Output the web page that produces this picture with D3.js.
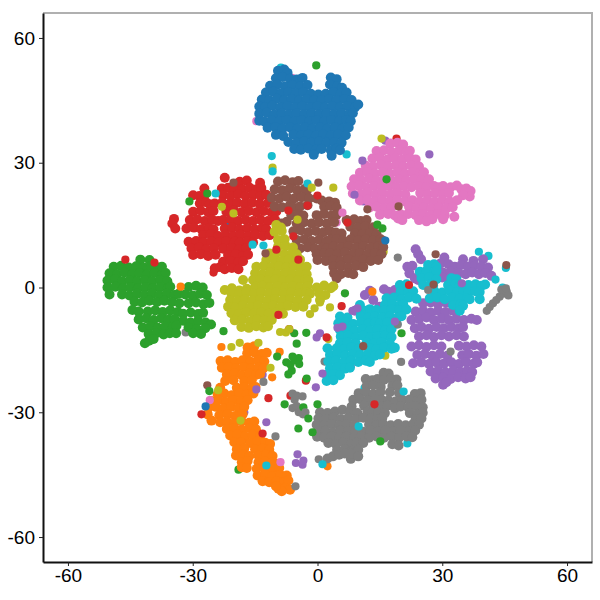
<!DOCTYPE html>
<html><head><meta charset="utf-8"><script src="https://cdn.jsdelivr.net/npm/d3@7"></script>
<style>html,body{margin:0;padding:0;background:#fff}svg{display:block}</style></head><body><svg id="c" width="600" height="600"></svg>
<script>
const classNames=["blue","orange","green","red","purple","brown","pink","gray","olive","cyan"];
const tickValues=[-60,-30,0,30,60];
const blue=[[-9.5,52.1],[-8,52.4],[-7.2,51.6],[-10,50.3],[-8.4,50.6],[-6.6,50.2],[-5,50],[-3.6,50.4],[3.2,50.5],[4.6,50.1],[-11.4,48.5],[-9.6,48.8],[-7.8,48.4],[-6,48.7],[-4.2,48.4],[-2.4,48.7],[3,48.8],[4.8,48.4],[5.9,48],[-12.4,46.9],[-10.6,47.1],[-8.8,46.7],[-7,47],[-5.2,46.7],[-3.4,47],[-1.6,46.6],[0.2,46.4],[2,46.6],[3.8,47],[5.6,46.6],[7,46.9],[-13.4,45.2],[-11.6,45],[-9.8,45.4],[-8,45],[-6.2,45.3],[-4.4,45],[-2.6,45.3],[-0.8,45],[1,45],[2.8,45.3],[4.6,45],[6.4,45.3],[8.2,45.1],[-14,43.5],[-12.6,43.3],[-10.8,43.7],[-9,43.3],[-7.2,43.6],[-5.4,43.3],[-3.6,43.6],[-1.8,43.3],[0,43.6],[1.8,43.3],[3.6,43.6],[5.4,43.3],[7.2,43.6],[9,43.3],[9.8,44],[-14,41.8],[-12.2,42],[-10.4,41.6],[-8.6,41.9],[-6.8,41.6],[-5,41.9],[-3.2,41.6],[-1.4,41.9],[0.4,41.6],[2.2,41.9],[4,41.6],[5.8,41.9],[7.6,41.6],[8.5,41.9],[-14,40.1],[-12.8,39.9],[-11,40.3],[-9.2,39.9],[-7.4,40.2],[-5.6,39.9],[-3.8,40.2],[-2,39.9],[-0.2,40.2],[1.6,39.9],[3.4,40.2],[5.2,39.9],[7,40.2],[8,40],[-12,38.4],[-10.2,38.6],[-8.4,38.2],[-6.6,38.5],[-4.8,38.2],[-3,38.5],[-1.2,38.2],[0.6,38.5],[2.4,38.2],[4.2,38.5],[6,38.2],[7.5,38.5],[-10,36.7],[-8.2,36.4],[-5.8,36.8],[-4,36.5],[-2.2,36.8],[-0.4,36.5],[1.4,36.8],[3.2,36.5],[5,36.8],[6.8,36.6],[-7,35],[-5,34.8],[-3.2,35.1],[-1.4,34.8],[0.4,35.1],[2.2,34.8],[4,35],[5.8,34.8],[-5.6,33.3],[-4,33.1],[-2.2,33.4],[-0.4,33.1],[1,33.3],[3.2,33],[4.6,33.4],[5.4,33],[-0.9,31.9],[3.4,31.7]];
const pink=[[17.5,34.6],[19.2,34.8],[20.6,34.4],[14.2,32.8],[16,33],[17.8,32.6],[19.6,32.9],[21.4,32.6],[22.2,32.9],[13.2,31],[15,31.2],[16.8,30.8],[18.6,31.1],[20.4,30.8],[22.2,31.1],[23.6,30.8],[11.6,29.3],[13.4,29.1],[15.2,29.5],[17,29.1],[18.8,29.4],[20.6,29.1],[22.4,29.4],[24.4,29.1],[10.2,27.6],[12,27.8],[13.8,27.4],[15.6,27.7],[17.4,27.4],[19.2,27.7],[21,27.4],[22.8,27.7],[24.6,27.4],[25.6,27.7],[8.8,26],[10.6,25.8],[12.4,26.2],[14.2,25.8],[16,26.1],[17.8,25.8],[19.6,26.1],[21.4,25.8],[23.2,26.1],[25,25.8],[26.8,26],[8.2,24.3],[10,24.5],[11.8,24.1],[13.6,24.4],[15.4,24.1],[17.2,24.4],[19,24.1],[20.8,24.4],[22.6,24.1],[24.4,24.4],[26.2,24.1],[28,24.4],[29,24.1],[30.2,24.4],[32,24.1],[33.5,24.5],[8.5,22.6],[10.3,22.4],[12.1,22.8],[13.9,22.4],[15.7,22.7],[17.5,22.4],[19.3,22.7],[21.1,22.4],[24.7,22.7],[26.5,22.4],[28.3,22.7],[30.1,22.4],[31.6,22.7],[34.6,23.6],[35.8,23.8],[36.8,23.2],[36.6,21.9],[35,22.2],[10.2,20.9],[12,21.1],[13.8,20.7],[15.6,21],[17.4,20.7],[19.2,21],[21,20.7],[22.8,21],[24.6,20.7],[26.4,21],[28.2,20.7],[30,21],[31.8,20.7],[33.6,21],[12.4,19.2],[14.2,19.4],[16,19],[17.8,19.3],[22,19.4],[23.8,19],[25.6,19.3],[27.4,19],[29.2,19.3],[31,19],[32.5,19.3],[15,17.5],[17,17.7],[18.6,17.3],[20,17.6],[21.8,17.7],[23.6,17.4],[25.4,17.7],[27.2,17.4],[29,17.7],[30.6,17.4],[19.4,16.6],[20.4,16.2],[24.4,16.2],[26.2,15.9],[27.6,16.4],[30.2,16.4],[32.9,17]];
const brown=[[-9.5,25.5],[-7.8,25.8],[-6,25.3],[-4.6,25.6],[-10.3,23.6],[-8.5,23.4],[-6.7,23.8],[-4.9,23.4],[-3.1,23.7],[-2.6,23.2],[-11,21.6],[-9.2,21.4],[-7.4,21.8],[-5.6,21.4],[-3.8,21.7],[-2,21.4],[-0.2,21.4],[1,20.9],[2.8,20.7],[4.2,20.4],[-10.3,19.5],[-8.5,19.3],[-6.7,19.7],[-5.9,19.3],[-4.2,19.5],[-2.4,19.8],[1.6,19.4],[3.2,19.6],[4.6,19.2],[-6.3,17.4],[-4.5,17.7],[-3.4,17.3],[-0.2,17.4],[1.6,17.7],[3.4,17.3],[4.6,17.5],[-8.7,15.4],[-7.4,15.8],[-5,15.4],[-3.2,15.7],[-1.4,15.4],[0.4,15.7],[2.2,15.4],[4,15.7],[7,16.2],[8.8,16.4],[10.4,16],[11.8,16.2],[-5.8,13.5],[-4,13.7],[-2.2,13.3],[-0.4,13.6],[1.4,13.3],[3,13.6],[4.4,13.2],[5.8,13],[7.9,14.6],[9.7,14.4],[11.5,14.7],[13.4,14.5],[9,13],[10.8,12.8],[12.6,13.1],[14.2,12.8],[-5,11.4],[-3.2,11.6],[-1.4,11.2],[0.4,11.5],[2.2,11.2],[3,11.5],[4.6,11.6],[6.2,11.3],[8,11.6],[9.8,11.3],[11.6,11.6],[13.4,11.3],[15.2,11.6],[15.8,11.2],[-4.2,9.4],[-2.4,9.7],[-0.6,9.3],[1.2,9.6],[2.2,9.3],[3.8,9.8],[5.6,9.6],[7.4,10],[9.2,9.6],[11,10],[12.8,9.6],[14.6,9.9],[15.8,9.7],[-0.2,8],[1.6,8.2],[3,8.2],[4.8,8],[6.6,8.4],[8.4,8],[10.2,8.3],[12,8],[13.8,8.3],[15.4,8],[0,6.6],[2,6.4],[3.8,6.6],[5.6,6.4],[7.4,6.8],[9.2,6.4],[11,6.7],[12.8,6.4],[14.6,6.6],[3.8,5],[5.6,5.2],[7.4,4.9],[9.2,5.2],[11,4.9],[4,3.4],[5.6,3.2],[7.4,3.5],[8.6,3.2],[4.6,2.2]];
const red=[[-22.3,26.4],[-18.7,25.4],[-17,25.7],[-13.8,25.2],[-27.2,23.8],[-23,23.8],[-21.5,24],[-19.9,23.8],[-18.1,23.6],[-16.3,24],[-14.7,23.6],[-13.5,23.9],[-29.9,22.2],[-28.4,22],[-27,22.4],[-22.7,22.2],[-20.9,22],[-19.1,22.4],[-17.3,22],[-15.5,22.3],[-13.7,22],[-12.3,22.3],[-28.3,20.2],[-26.8,20.5],[-25.9,20],[-24.7,20.2],[-22.9,20.5],[-21.1,20.1],[-19.3,20.4],[-17.5,20.1],[-15.7,20.4],[-13.9,20.1],[-11.9,20.3],[-29.9,18.2],[-28.1,18.5],[-26.3,18.1],[-25,18.4],[-21.9,18.2],[-20.1,18.5],[-18.3,18.1],[-16.5,18.4],[-14.7,18.1],[-12.9,18.4],[-11.1,18.1],[-9.9,18.3],[-30.7,16.2],[-28.9,16.4],[-27.1,16],[-25.3,16.3],[-23.9,16],[-22.7,16.2],[-20.9,16.4],[-19.1,16],[-17.3,16.3],[-15.5,16],[-13.7,16.3],[-11.9,16],[-10.2,16.3],[-34.5,16.5],[-34.9,15.4],[-34.2,14.2],[-31.5,14.2],[-29.7,14.4],[-27.9,14],[-26.1,14.3],[-25,14],[-22.3,14.2],[-20.5,14.4],[-18.7,14],[-16.9,14.3],[-15.1,14],[-13.3,14.3],[-12.3,14],[-27.5,12.6],[-25.7,12.8],[-23.9,12.4],[-22.1,12.7],[-20.3,12.4],[-18.5,12.7],[-16.7,12.4],[-14.9,12.7],[-13.1,12.4],[-11.5,12.6],[-31,11],[-29.2,11.2],[-27.4,10.8],[-25.6,11.1],[-23.8,10.8],[-22,11.1],[-19.9,11],[-18.7,10.8],[-16.9,11.1],[-15.5,10.8],[-30.3,9.4],[-28.5,9.6],[-26.7,9.2],[-24.9,9.5],[-22.7,9.3],[-20.7,9.5],[-18.9,9.2],[-17.1,9.5],[-29.9,7.8],[-28.1,8],[-26.3,7.6],[-24.5,7.9],[-21.5,7.8],[-19.7,8],[-17.9,7.6],[-16.7,7.9],[-22.7,6.2],[-20.9,6.4],[-19.1,6],[-17.9,6.3],[-24.7,4.6],[-23.4,4.9],[-22.3,4.4],[-20.6,4.7],[-19,4.4]];
const olive=[[-9.9,15],[-8.8,14.4],[-10.3,13.4],[-8.6,13.6],[-9.5,11.4],[-7.9,11.6],[-9.5,9.8],[-7.7,10],[-5.9,9.6],[-11.5,8.2],[-9.7,8.4],[-7.9,8],[-6.1,8.3],[-5,8],[-12.3,6.6],[-10.5,6.8],[-8.7,6.4],[-6.9,6.7],[-5.1,6.4],[-4.2,6.7],[-14.7,5],[-12.9,5.2],[-11.1,4.8],[-9.3,5.1],[-7.5,4.8],[-5.7,5.1],[-3.9,4.8],[-2.6,5],[-15,3.4],[-13.2,3.2],[-11.4,3.6],[-9.6,3.2],[-7.8,3.5],[-6,3.2],[-4.2,3.5],[-2.6,3.2],[-17.9,1.8],[-15.5,1.8],[-13.7,2],[-11.9,1.6],[-10.1,1.9],[-8.3,1.6],[-6.5,1.9],[-4.7,1.6],[-2.9,1.9],[-2.2,1.6],[-22.3,-0.6],[-20.6,-0.2],[-18.8,-0.7],[-17,-0.3],[-15,0.2],[-13.2,0.4],[-11.4,0],[-9.6,0.3],[-7.8,0],[-6,0.3],[-4.2,0],[-2.4,0.3],[-0.2,0],[1.6,0.5],[3.2,-0.2],[3.8,0.3],[-20.7,-1.4],[-18.9,-1.6],[-17.1,-1.2],[-15.3,-1.5],[-13.5,-1.2],[-11.7,-1.5],[-9.9,-1.2],[-8.1,-1.5],[-6.3,-1.2],[-4.5,-1.5],[-2.7,-1.2],[-1.8,-1.5],[0.4,-1.4],[1.9,-1.8],[-21,-3],[-19.2,-3.2],[-17.4,-2.8],[-15.6,-3.1],[-13.8,-2.8],[-12,-3.1],[-10.2,-2.8],[-8.4,-3.1],[-6.6,-2.8],[-4.8,-3.1],[-2.6,-3],[0.6,-3],[-21.5,-4.6],[-19.7,-4.8],[-17.9,-4.4],[-16.1,-4.7],[-14.3,-4.4],[-12.5,-4.7],[-10.7,-4.4],[-8.9,-4.7],[-7.1,-4.4],[-5.3,-4.7],[-3.4,-4.6],[-20.7,-6.2],[-18.9,-6.4],[-17.1,-6],[-15.3,-6.3],[-13.5,-6],[-11.7,-6.3],[-9.9,-6],[-8.3,-6.3],[-19.9,-7.9],[-18.1,-7.7],[-16.3,-8.1],[-14.5,-7.7],[-12.7,-8],[-11,-7.8],[-18.3,-9.5],[-16.5,-9.7],[-14.7,-9.3],[-13,-9.6],[-11.9,-9.3]];
const green=[[-42.6,6.7],[-40.4,6.6],[-49,5],[-47.2,5.2],[-45.4,4.8],[-43.6,5.1],[-41.8,4.8],[-40,5.1],[-38.2,4.8],[-37.4,5],[-50,3.4],[-48.2,3.2],[-46.4,3.6],[-44.6,3.2],[-42.8,3.5],[-41,3.2],[-39.2,3.5],[-37.4,3.2],[-36.5,3.5],[-50.5,1.7],[-48.7,1.9],[-46.9,1.5],[-45.1,1.8],[-43.3,1.5],[-41.5,1.8],[-39.7,1.5],[-37.9,1.8],[-36.1,1.5],[-50.5,0],[-48.6,0.2],[-46.8,-0.2],[-45,0.1],[-43.2,-0.2],[-41.4,0.1],[-39.6,-0.2],[-37.8,0.1],[-36,-0.2],[-35.4,0.2],[-31,0.1],[-29.2,0.4],[-27.6,0],[-50,-1.7],[-47,-1.7],[-45.2,-1.9],[-43.4,-1.5],[-41.6,-1.8],[-39.8,-1.5],[-38,-1.8],[-36.2,-1.5],[-34.4,-1.8],[-33.4,-1.5],[-31.8,-1.7],[-30,-1.9],[-28.2,-1.5],[-26.6,-1.8],[-44,-3.4],[-42.2,-3.6],[-40.4,-3.2],[-38.6,-3.5],[-36.8,-3.2],[-35,-3.5],[-33.2,-3.8],[-31,-3.8],[-29.2,-3.6],[-27.4,-4],[-26,-3.7],[-44.5,-5.4],[-43,-5.8],[-40.8,-5.8],[-39,-5.5],[-37.2,-5.9],[-35.4,-5.5],[-33.6,-5.9],[-32.3,-6.3],[-30.5,-6],[-28.7,-6.4],[-27.5,-6.1],[-43,-7.7],[-41.2,-7.4],[-39.4,-7.8],[-37.6,-7.4],[-35.8,-7.7],[-34.4,-7.6],[-32.3,-8],[-30.5,-8.4],[-28.7,-8],[-26.9,-8.4],[-25.6,-8.9],[-42,-9.6],[-40.2,-9.3],[-38.4,-9.7],[-36.6,-9.3],[-34.8,-9.6],[-33.9,-9.2],[-31,-9.6],[-29,-10],[-27,-9.8],[-40.6,-11.2],[-38.8,-11],[-37,-11.3],[-35.5,-11],[-34,-11],[-29.9,-11],[-28,-11.2],[-41.5,-13.4],[-40.5,-12.8],[-39.4,-12.4]];
const orange=[[-16.8,-14.4],[-15.2,-14.1],[-16.9,-15.8],[-15.2,-15.6],[-13.4,-16],[-12.2,-15.7],[-23.3,-17.7],[-21.6,-17.5],[-19.8,-17.9],[-18,-17.5],[-16.2,-17.8],[-14.4,-17.5],[-12.8,-17.8],[-23,-19.3],[-21.4,-19.1],[-19.6,-19.4],[-17.8,-19.1],[-16,-19.4],[-14.2,-19.1],[-13,-19.4],[-21.8,-20.9],[-20,-20.7],[-18.2,-21.1],[-16.4,-20.7],[-14.8,-21],[-13.8,-20.8],[-22.2,-22.5],[-20.2,-22.3],[-17.6,-22.6],[-15.8,-22.3],[-23.4,-24.1],[-19.4,-24.1],[-17.6,-23.9],[-15.8,-24.2],[-14.9,-23.9],[-24,-25.7],[-22.4,-25.5],[-20.6,-25.9],[-18.8,-25.5],[-17,-25.8],[-15.4,-25.5],[-25.6,-27.3],[-23.8,-27.1],[-22,-27.5],[-20.2,-27.1],[-18.4,-27.4],[-16.8,-27.1],[-26.2,-28.9],[-24.4,-28.7],[-22.6,-29.1],[-20.8,-28.7],[-19,-29],[-17.6,-28.7],[-26.4,-30.5],[-25.5,-32],[-23.6,-30.7],[-21.6,-30.5],[-19.8,-30.9],[-18,-30.5],[-23.4,-32.4],[-21.8,-32.2],[-20,-32.6],[-18.2,-32.2],[-16.4,-32.5],[-15.2,-32.2],[-21.8,-34],[-20,-33.8],[-18.2,-34.2],[-16.4,-33.8],[-14.8,-34.1],[-21,-35.6],[-19.2,-35.4],[-17.4,-35.8],[-15.6,-35.4],[-13.8,-35.7],[-20,-37.2],[-18.4,-37.2],[-16.2,-37.4],[-14.4,-37],[-12.6,-37.3],[-11.4,-37.6],[-19.4,-38.9],[-17.6,-38.7],[-15,-38.9],[-13.2,-38.7],[-11.6,-39],[-19.6,-40.4],[-17.8,-40.2],[-16.4,-40.5],[-14.2,-40.4],[-12.4,-40.2],[-10.8,-40.5],[-18.2,-42],[-16.8,-41.7],[-14.2,-42],[-12.6,-41.8],[-10.8,-42],[-9.8,-42.4],[-18.2,-43.2],[-17,-43.4],[-14.6,-43.6],[-12.8,-43.4],[-11,-43.7],[-9.2,-43.4],[-14.4,-45.2],[-12.6,-45],[-10.8,-45.3],[-9,-45],[-7.4,-45.2],[-13.2,-46.6],[-11.6,-46.8],[-9.8,-46.5],[-8,-46.8],[-7,-46.4],[-9.4,-48.4],[-7.8,-48.2],[-6.6,-48.6],[-8.6,-49],[-10,-47.8]];
const gray=[[15.9,-20.5],[17.1,-20.7],[11.6,-22],[13.2,-22.3],[14.4,-22],[16,-22.2],[17.6,-21.9],[19,-22.1],[11.8,-23.7],[13.4,-23.5],[15.2,-23.9],[18,-23.7],[19.2,-23.5],[9.9,-25.4],[11.6,-25.2],[13.4,-25.6],[15.1,-25.2],[17.4,-25.2],[19.6,-25.4],[23.4,-25.6],[24.8,-25.4],[8.6,-27],[10.2,-26.8],[12,-27.2],[13.8,-26.9],[15.4,-27],[17,-27.2],[18.7,-27.4],[20.4,-27],[22.2,-26.9],[24,-27.2],[25,-27],[8.2,-28.6],[11.2,-28.4],[13.4,-28.3],[15.4,-28.6],[16.8,-28.4],[18.6,-29],[20,-28.6],[21.8,-28.8],[23.6,-28.5],[25.3,-28.8],[0.6,-30],[2.4,-30.2],[4.2,-29.8],[6,-29.4],[7.8,-29.8],[9.6,-30.2],[12,-29.8],[13.2,-30],[14.6,-30],[16.2,-30.2],[22.2,-30.2],[24,-30.4],[25.3,-30.1],[0.2,-31.5],[2,-31.7],[3.8,-31.3],[5.6,-31.6],[7.4,-31.3],[9.2,-31.6],[11,-31.3],[12.8,-31.5],[14.4,-31.6],[15.6,-31.3],[23.6,-31.7],[25,-31.5],[-0.2,-33],[1.6,-33.2],[3.4,-32.8],[5.2,-33.1],[7,-32.8],[8.8,-33.1],[12.4,-33],[14,-33.2],[15.8,-32.8],[17.6,-33.1],[19.4,-32.8],[21.2,-33.1],[23,-32.8],[24.4,-33],[0.1,-34.6],[1.9,-34.4],[3.7,-34.8],[5.5,-34.4],[7.3,-34.7],[9.1,-34.4],[10.9,-34.7],[12.7,-34.4],[14.5,-34.7],[16.3,-34.4],[18.1,-34.7],[19.9,-34.4],[21.7,-34.7],[23.5,-34.4],[-0.1,-35.9],[1.6,-36.1],[3.4,-35.8],[5.2,-36.1],[7,-35.8],[8.8,-36.1],[10.6,-35.8],[12.4,-36.1],[14.2,-35.8],[16,-36.1],[17.8,-35.8],[19.6,-36.1],[21.4,-35.8],[22.8,-36],[2.6,-37.4],[4.4,-37.6],[6.2,-37.2],[8,-37.6],[9.4,-37.3],[11,-37.4],[18,-37.7],[19.5,-38],[4.7,-39.1],[6.5,-38.9],[8.3,-39.3],[9.8,-39],[2.4,-41.1],[3.7,-40.6],[5.2,-40.2],[6.5,-39.9],[8,-41.2],[8,-40],[9.8,-40.6]];
const purple=[[23.6,9.2],[24.2,8],[24.9,6.8],[21.6,5],[22.8,5.2],[22.1,3.4],[23.4,2.2],[24.2,1.8],[30.5,7.2],[35,6.8],[37.5,6.4],[39.8,6.8],[29.6,5.8],[31.5,5.6],[33,5],[34.6,5.4],[36.2,5],[37.8,5.3],[39.4,5],[41,4.8],[30.2,3.6],[32,3.8],[34,3.4],[35.6,3.2],[37.2,3.6],[38.8,3.2],[40.4,3.5],[41.8,2.8],[30,2.4],[31.6,2],[11.4,-1.8],[12.6,-0.8],[13.4,-3],[17,-1],[18.6,-0.6],[16,-0.4],[20,-0.8],[9,-5.6],[10.4,-5.2],[14.9,-4.6],[5.4,-9.8],[25.4,-3.8],[27.2,-3.6],[29,-4],[30.8,-3.6],[32,-3.8],[23.6,-5.8],[25.4,-5.6],[27.2,-6],[29,-5.6],[30.8,-5.9],[32.6,-5.6],[33.4,-5.9],[22.6,-7.8],[24.4,-7.6],[26.2,-7.2],[28,-7.8],[29.8,-7.5],[31.6,-7.8],[33.4,-7.5],[35.2,-7.8],[37,-7.5],[38.3,-7.8],[23.4,-9.8],[25,-9.5],[26.8,-9.9],[28.6,-9.5],[30.4,-9.8],[32.2,-9.5],[34,-9.8],[35,-9.5],[24.4,-11.8],[26.2,-11.5],[28,-11.9],[29.8,-11.5],[31.6,-11.8],[33.4,-11.5],[35.2,-11.8],[22.6,-14.2],[24.4,-13.9],[26.2,-14.3],[28,-13.9],[29.8,-14.2],[34,-14],[35.8,-14.2],[37.6,-13.9],[39.4,-14.2],[24,-16.2],[25.8,-16],[27.6,-16.4],[29.4,-16],[31.2,-16.4],[34.8,-16.3],[36.4,-16],[38.2,-16.4],[39.9,-16],[23,-18.2],[25,-18],[26.8,-18.4],[28.6,-18],[30.4,-18.3],[32.2,-18],[34,-18.4],[35.8,-18],[37.6,-18.3],[38.4,-18],[27.2,-20.2],[29,-20],[30.8,-20.4],[32.6,-20],[34.4,-20.3],[36,-20],[37.2,-20.3],[28.4,-21.9],[30.2,-21.6],[32,-22],[33.8,-21.6],[35.6,-21.9],[36.8,-21.6],[30.2,-23.4],[31,-22.8]];
const cyan=[[26.6,5.4],[28,5.6],[28.6,5],[24.6,3.8],[26.2,4],[28,3.6],[28.6,4],[25,2.2],[26.8,2.4],[28.6,2],[32.2,2.2],[33.4,2],[19.8,0.6],[21.4,0.8],[25.4,0.6],[27.2,0.8],[27.8,0.4],[31.4,0.6],[33.2,0.8],[34.2,0.4],[36.3,0.6],[38,0.8],[39.4,0.4],[40.3,0.7],[20,-1],[21.8,-1.2],[23,-0.9],[28.2,-1],[30,-1.2],[31.8,-0.8],[33.6,-1.1],[35,-0.9],[36.3,-1.1],[38,-0.9],[39,-1.1],[16.6,-2.6],[18.4,-2.4],[20.2,-2.8],[22,-2.4],[23.8,-2.7],[27,-2.6],[28.8,-2.4],[30.6,-2.8],[32.4,-2.4],[34.2,-2.7],[36,-2.5],[36.6,-2.8],[39,-2.8],[10.2,-4.2],[16.2,-4.2],[18,-4],[19.8,-4.4],[20.6,-4],[32.6,-4.2],[34.4,-4],[35,-4.4],[10.2,-5.4],[11.8,-5.6],[12.6,-5.2],[14.2,-5.4],[16,-5.6],[17.8,-5.2],[19.6,-5.5],[21.4,-5.3],[34.2,-5.6],[5.4,-7],[7.2,-7.2],[10.4,-7],[12.2,-7.2],[13.8,-7],[15.6,-7.2],[17.4,-6.9],[19.2,-7.2],[20.2,-6.9],[5,-8.6],[6.8,-8.4],[8.6,-8.8],[10.4,-8.4],[12.2,-8.7],[13.8,-8.4],[15,-8.7],[16.8,-8.4],[19,-8.7],[5.4,-10.2],[7.2,-10],[9,-10.4],[10.8,-10],[12.6,-10.3],[14.4,-10],[16.2,-10.3],[17.8,-10],[5.6,-11.8],[7.4,-11.6],[9.2,-12],[11,-11.6],[12.8,-11.9],[14.4,-11.8],[16.2,-11.6],[17.8,-11.9],[5.4,-13.4],[7.2,-13.2],[9.2,-13.5],[11.8,-13.3],[13.6,-13.5],[15.4,-13.2],[17.4,-13.5],[2.4,-14.6],[4.6,-14.6],[6.4,-14.8],[8.2,-14.4],[10,-14.7],[12.6,-14.6],[14.2,-14.8],[16,-14.5],[17.8,-14.7],[18.6,-14.5],[3,-16.2],[4.8,-16],[6.6,-16.4],[8.4,-16],[10.2,-16.3],[12,-16],[13.8,-16.4],[15,-16.1],[2.6,-17.8],[4.4,-17.6],[6.2,-18],[8,-17.6],[9.8,-17.9],[11.6,-17.6],[12.6,-17.9],[3,-19.4],[4.8,-19.2],[6.6,-19.5],[7.8,-19.3],[2.2,-21],[3.8,-20.8],[5.4,-21.1],[2.2,-22.5],[3.8,-22.3]];
// strays drawn before the main groups, as [class index, x, y]
const understrays=[[9,-8.8,52.9],[6,-14.7,40],[6,-8.4,37],[6,-6.1,50.4],[3,-25,3.6],[8,-18.5,6.2],[4,16.3,35.3],[3,19,35.8],[4,11,20.7],[6,4.6,15.6],[8,15.9,8.6],[9,45.3,4.7],[9,41.1,7.6],[4,8,-18.9],[4,-13.2,-21],[4,-17.6,-30],[7,-17.6,-36.5],[2,-19,-43.8],[9,7,32],[5,45,-0.9],[8,16.3,-16.4],[7,1.7,-17.8],[3,-2.8,-22.4],[1,2.4,-43],[9,21.6,-37.5],[9,11.3,-24.2],[3,11.9,-30.2],[7,-31.7,-10.8],[0,-22,15.6]];
// strays drawn after the main groups, as [class index, x, y]
const overstrays=[[9,-11,31.6],[8,-10.8,28.8],[9,-10.8,27.9],[2,-26.5,22.6],[9,-24.5,22.6],[2,-30.8,20.7],[8,-23,19.4],[8,-20.2,17.8],[9,-15.6,10.3],[9,-13,10.1],[5,-12.5,8.2],[5,-20.2,25.2],[3,-46.2,6.7],[3,-39.2,6],[1,-32.9,0.2],[3,-7,18.5],[3,-5.8,12.3],[3,-4.6,6.7],[8,-4.8,16.3],[3,-9.9,9.1],[2,-0.3,53.4],[8,15.4,35.8],[4,26.9,32],[4,10.8,30.5],[2,16.6,26],[4,8.9,22.3],[5,12,18.8],[5,19.5,19.5],[5,0.2,25.2],[9,-2.4,25],[8,-1.4,24],[8,3.8,24],[3,0,22.1],[3,-2.4,19.7],[6,6,18],[3,7.2,15.6],[2,14.4,15.1],[2,15.6,14.2],[0,16.3,11.3],[7,19.3,7.2],[5,28.4,8],[5,45.4,5.4],[9,38.8,8.6],[9,42.8,1.9],[9,44.5,0],[4,34.7,1],[2,6.6,-1.4],[1,13.2,-1],[7,26.6,-0.6],[3,22,0.6],[5,27.9,0.7],[7,40.7,-5.6],[7,41.4,-4.7],[7,42.2,-3.8],[7,43,-3],[7,43.8,-2.2],[7,44.6,-1.5],[7,45.5,-1],[7,44.2,-0.5],[7,45.3,-0.2],[7,45.9,-1.9],[2,-22.6,-10.5],[1,-23.1,-14.3],[8,-20.7,-14.3],[8,-18.7,-13.3],[8,-14.2,-13.3],[1,-9.1,-15.5],[2,-9.7,-16.6],[8,-11.3,-19.3],[1,-10.9,-21.6],[7,-13,-22.7],[5,-26.5,-23.5],[2,-26,-24.9],[8,-23.9,-24.7],[4,-14.7,-24.5],[3,-11.8,-26.6],[6,-25.9,-27.1],[0,-26.9,-28.6],[3,-27.9,-30.5],[8,-18.5,-32],[4,-12.3,-32.4],[3,-13.2,-35.1],[7,-10.1,-35.8],[6,-8.9,-42],[9,-12.3,-42.8],[7,-5.3,-47.8],[4,-4.8,-40.1],[4,-5.2,-42.2],[4,-3.6,-42.6],[4,-3.4,-41.6],[2,-4.6,-33.9],[2,-7.9,-28.1],[3,-6.5,-26],[7,-6,-25.5],[7,-5.5,-27],[7,-6,-29],[7,-5,-28.5],[7,-4.5,-30],[7,-3.5,-30.5],[7,-5,-26],[7,-3.6,-26.2],[2,-7.5,-18],[2,-6.5,-18.5],[2,-5.5,-17.5],[2,-4.5,-17],[2,-6,-16.6],[2,-4.4,-18.4],[2,-6.2,-20],[2,-7,-20.9],[2,-5,-13.5],[2,-5.6,-11],[3,-6.8,-10],[8,-9,-10.7],[8,-7.6,-10.8],[8,-6.8,-10],[3,-9.4,-6.6],[2,-2.6,-21.9],[2,0,-28.1],[2,-3.4,-28.8],[7,-2.9,-30],[2,-2.2,-31.5],[2,-1.2,-34.8],[7,0.3,-41.3],[9,1.2,-42.5],[2,15.1,-37],[9,20.7,-25],[3,13.7,-28.1],[9,9.9,-33.4],[7,20.1,-17.9],[7,32,-15.4],[5,11,-14.1],[8,2.6,-12.4],[2,-2.7,-10.9],[4,-0.2,-12],[4,0.6,-11],[3,5.8,-4.5],[8,3,-4.8],[8,0.6,-3.6],[8,-0.7,-5],[8,-1.8,-6.4],[2,20.2,-11],[7,19.3,-8.9],[4,1.2,-20.7],[4,4.8,-9.7],[4,6,-9.4],[4,8.4,-5.6],[4,9.6,-5],[4,18.6,-8.2],[4,-0.4,-24],[3,2.2,-12]];

const svg=d3.select("#c");
const x=d3.scaleLinear().domain([-66,66]).range([43,592]);
const y=d3.scaleLinear().domain([-66,66]).range([562,13]);
const color=d3.scaleOrdinal().domain(d3.range(10)).range(d3.schemeCategory10);
const groups=[blue,orange,green,red,purple,brown,pink,gray,olive,cyan];
function dots(cls,rows,fn,r){svg.append("g").attr("class",cls).selectAll("circle").data(rows).join("circle").attr("cx",d=>x(fn(d)[0])).attr("cy",d=>y(fn(d)[1])).attr("r",r).attr("fill",d=>color(fn(d)[2]));}
dots("under",understrays,d=>[d[1],d[2],d[0]],4.1);
groups.forEach((g,i)=>dots(classNames[i],g,d=>[d[0],d[1],i],5));
dots("over",overstrays,d=>[d[1],d[2],d[0]],4.1);
svg.append("path").attr("d","M43,13H592V562").attr("fill","none").attr("stroke","#b0b0b0").attr("stroke-width",2);
const fmt=d=>String(d);
const ax=svg.append("g").attr("transform","translate(0,562)").call(d3.axisBottom(x).tickValues(tickValues).tickFormat(fmt).tickSize(4).tickSizeOuter(0).tickPadding(3));
const ay=svg.append("g").attr("transform","translate(43,0)").call(d3.axisLeft(y).tickValues(tickValues).tickFormat(fmt).tickSize(4).tickSizeOuter(0).tickPadding(4));
[ax,ay].forEach(a=>{a.selectAll("text").attr("fill","#000").style("font-family","'Liberation Sans',Arial,sans-serif").style("font-size","19px");a.selectAll("line").attr("stroke","#222").attr("stroke-width",1);a.select(".domain").attr("stroke","#111").attr("stroke-width",2);});
</script></body></html>
